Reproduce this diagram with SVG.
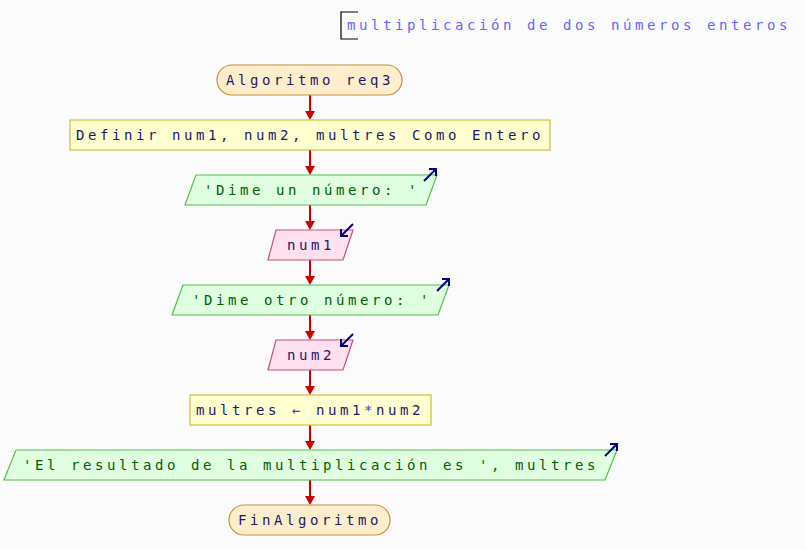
<svg xmlns="http://www.w3.org/2000/svg" width="806" height="550" viewBox="0 0 806 550">
<style>
text{font-family:"DejaVu Sans Mono","Liberation Mono",monospace;font-size:14px;letter-spacing:3.57px}
.term{fill:#ffeecc;stroke:#c8903c;stroke-width:1.2}
.proc{fill:#ffffd0;stroke:#c8c040;stroke-width:1.2}
.out{fill:#e0ffe0;stroke:#50c050;stroke-width:1.2}
.in{fill:#ffe0ee;stroke:#c05080;stroke-width:1.2}
.tn{fill:#1a1a6a}
.tg{fill:#006000}
.op{fill:#4040c8}
.icon{fill:none;stroke:#000080;stroke-width:2}
.conn line{stroke:#cc0000;stroke-width:2}
.conn path{fill:#cc0000}
</style>
<rect width="806" height="550" fill="#fbfbfb"/>
<g id="comment">
<path d="M358,12 L341,12 L341,39 L358,39" fill="none" stroke="#000" stroke-width="1.2"/>
<text x="347" y="30" style="fill:#6666ff">multiplicación de dos números enteros</text>
</g>
<g class="conn" id="connectors">
<line x1="310" y1="95" x2="310" y2="111"/><path d="M305,111 L315,111 L310,120 Z"/>
<line x1="310" y1="150" x2="310" y2="166"/><path d="M305,166 L315,166 L310,175 Z"/>
<line x1="310" y1="205" x2="310" y2="221"/><path d="M305,221 L315,221 L310,230 Z"/>
<line x1="310" y1="260" x2="310" y2="276"/><path d="M305,276 L315,276 L310,285 Z"/>
<line x1="310" y1="315" x2="310" y2="331"/><path d="M305,331 L315,331 L310,340 Z"/>
<line x1="310" y1="370" x2="310" y2="386"/><path d="M305,386 L315,386 L310,395 Z"/>
<line x1="310" y1="425" x2="310" y2="441"/><path d="M305,441 L315,441 L310,450 Z"/>
<line x1="310" y1="480" x2="310" y2="496"/><path d="M305,496 L315,496 L310,505 Z"/>
</g>
<g id="start">
<rect class="term" x="217" y="65" width="185" height="30" rx="15"/>
<text class="tn" x="226" y="85">Algoritmo req3</text>
</g>
<g id="define">
<rect class="proc" x="70" y="120" width="480" height="30"/>
<text class="tn" x="76" y="140">Definir num1, num2, multres Como Entero</text>
</g>
<g id="out1">
<polygon class="out" points="196,175 437,175 426,205 185,205"/>
<text class="tg" x="204" y="195">'Dime un número: '</text>
<line class="icon" x1="424" y1="181" x2="436" y2="169"/>
<path class="icon" d="M429,169 L436,169 L436,176"/>
</g>
<g id="in1">
<polygon class="in" points="276,230 353,230 343,260 268,260"/>
<text class="tn" x="287" y="250">num1</text>
<line class="icon" x1="353" y1="224" x2="341" y2="236"/>
<path class="icon" d="M341,229 L341,236 L348,236"/>
</g>
<g id="out2">
<polygon class="out" points="183,285 449,285 438,315 172,315"/>
<text class="tg" x="192" y="305">'Dime otro número: '</text>
<line class="icon" x1="437" y1="291" x2="449" y2="279"/>
<path class="icon" d="M442,279 L449,279 L449,286"/>
</g>
<g id="in2">
<polygon class="in" points="276,340 353,340 343,370 268,370"/>
<text class="tn" x="287" y="360">num2</text>
<line class="icon" x1="353" y1="334" x2="341" y2="346"/>
<path class="icon" d="M341,339 L341,346 L348,346"/>
</g>
<g id="assign">
<rect class="proc" x="190" y="395" width="241" height="30"/>
<text class="tn" x="196" y="415">multres <tspan class="op">←</tspan> num1<tspan class="op">*</tspan>num2</text>
</g>
<g id="out3">
<polygon class="out" points="16,450 617,450 605,480 4,480"/>
<text class="tg" x="23" y="470">'El resultado de la multiplicación es ', multres</text>
<line class="icon" x1="605" y1="456" x2="617" y2="444"/>
<path class="icon" d="M610,444 L617,444 L617,451"/>
</g>
<g id="end">
<rect class="term" x="229" y="505" width="161" height="30" rx="15"/>
<text class="tn" x="238" y="525">FinAlgoritmo</text>
</g>
</svg>
